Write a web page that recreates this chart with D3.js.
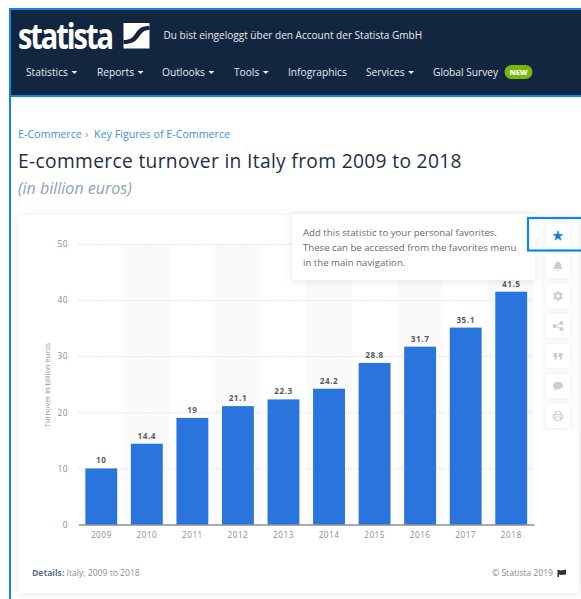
<!DOCTYPE html>
<html>
<head>
<meta charset="utf-8">
<title>E-commerce turnover in Italy</title>
<script src="https://cdn.jsdelivr.net/npm/d3@7"></script>
<style>
html, body { margin: 0; padding: 0; background: #fff; overflow: hidden; }
svg { display: block; font-family: "Open Sans", sans-serif; }
</style>
</head>
<body>
<div id="chart"></div>
<script>
const width = 581;
const height = 599;

const years = ["2009", "2010", "2011", "2012", "2013", "2014", "2015", "2016", "2017", "2018"];
const turnover = [10, 14.4, 19, 21.1, 22.3, 24.2, 28.8, 31.7, 35.1, 41.5];
const yTicks = [0, 10, 20, 30, 40, 50];

const navItems = ["Statistics", "Reports", "Outlooks", "Tools", "Infographics", "Services", "Global Survey"];
const navHasCaret = [true, true, true, true, false, true, false];
const navLeft = [26, 97, 162, 234, 288, 366, 433];
const tooltipLines = [
    "Add this statistic to your personal favorites.",
    "These can be accessed from the favorites menu",
    "in the main navigation."
];
const sideIcons = ["star", "bell", "gear", "share", "quote", "comment", "print"];

const blue = "#0d87e6";
const navy = "#12263f";
const barBlue = "#2975dd";

const svg = d3.select("#chart").append("svg")
    .attr("width", width)
    .attr("height", height)
    .attr("viewBox", [0, 0, width, height]);

const defs = svg.append("defs");
const shadow = defs.append("filter").attr("id", "shadow")
    .attr("x", "-10%").attr("y", "-10%").attr("width", "120%").attr("height", "125%");
shadow.append("feDropShadow")
    .attr("dx", 0).attr("dy", 1).attr("stdDeviation", 4)
    .attr("flood-color", "#000").attr("flood-opacity", 0.1);
const softShadow = defs.append("filter").attr("id", "softShadow")
    .attr("x", "-20%").attr("y", "-20%").attr("width", "140%").attr("height", "140%");
softShadow.append("feDropShadow")
    .attr("dx", 0).attr("dy", 0).attr("stdDeviation", 2)
    .attr("flood-color", "#000").attr("flood-opacity", 0.06);

/**
 * Draw the dark header with logo and navigation
 */
function drawHeader() {
    svg.append("rect").attr("x", 9).attr("y", 8).attr("width", width - 9).attr("height", 89)
        .attr("fill", blue);
    svg.append("rect").attr("x", 11).attr("y", 10).attr("width", width - 11).attr("height", 85)
        .attr("fill", navy);
    svg.append("rect").attr("x", 9).attr("y", 97).attr("width", 2).attr("height", height - 97)
        .attr("fill", blue);

    // Narrow face stretched upwards to get the tall logo letters
    svg.append("text")
        .attr("transform", "translate(18,48.5) scale(1,1.22)")
        .attr("font-family", "'Liberation Sans Narrow', 'Open Sans', sans-serif")
        .attr("font-size", 29).attr("font-weight", 700)
        .attr("textLength", 96).attr("lengthAdjust", "spacing")
        .attr("fill", "#fff")
        .text("statista");

    // Square logo with the dark swoosh running up to the right
    const logo = svg.append("g").attr("transform", "translate(123.5,23)");
    logo.append("rect").attr("width", 26).attr("height", 25.5).attr("fill", "#fff");
    logo.append("path")
        .attr("d", "M0,17 C7,17 9,15 13,9 C16,5 19,3 26,3 L26,7 C21,7 19,9 16,13 C12,19 8,21 0,21 Z")
        .attr("fill", navy);

    svg.append("text")
        .attr("x", 163.5).attr("y", 38.5)
        .attr("font-size", 10.05).attr("fill", "#e8ecf1")
        .text("Du bist eingeloggt über den Account der Statista GmbH");

    const nav = svg.append("g").selectAll("g")
        .data(navItems)
        .join("g")
        .attr("transform", (d, i) => `translate(${navLeft[i]},75.5)`);
    nav.append("text")
        .attr("font-size", 10.2).attr("fill", "#e8ecf1")
        .text(d => d);
    nav.filter((d, i) => navHasCaret[i]).append("path")
        .attr("transform", function () {
            const w = this.parentNode.querySelector("text").getComputedTextLength();
            return `translate(${w + 3.5},-4.5)`;
        })
        .attr("d", "M0,0 L6,0 L3,3 Z")
        .attr("fill", "#e8ecf1");

    svg.append("rect").attr("x", 504.5).attr("y", 65).attr("width", 28).attr("height", 14).attr("rx", 7)
        .attr("fill", "#76b80b");
    svg.append("text").attr("x", 518.5).attr("y", 75).attr("text-anchor", "middle")
        .attr("font-size", 7.5).attr("font-weight", 800).attr("fill", "#fff")
        .text("NEW");
}

/**
 * Draw breadcrumb, headline and unit line
 */
function drawHeadings() {
    svg.append("text").attr("x", 18).attr("y", 138.3)
        .attr("font-size", 10.7).attr("fill", "#3d92dc")
        .text("E-Commerce");
    svg.append("text").attr("x", 85).attr("y", 138.3)
        .attr("font-size", 10.7).attr("fill", "#8a9aaa")
        .text("›");
    svg.append("text").attr("x", 94).attr("y", 138.3)
        .attr("font-size", 10.7).attr("fill", "#3d92dc")
        .text("Key Figures of E-Commerce");
    svg.append("text").attr("x", 18).attr("y", 168)
        .attr("font-size", 19.2).attr("font-weight", 500).attr("fill", "#1d2f47")
        .attr("letter-spacing", 0.34)
        .text("E-commerce turnover in Italy from 2009 to 2018");
    svg.append("text").attr("x", 18).attr("y", 194)
        .attr("font-size", 16).attr("font-style", "italic").attr("fill", "#8ea2b3")
        .text("(in billion euros)");
}

/**
 * Draw the card with the bar chart in it
 */
function drawChart() {
    svg.append("rect").attr("x", 18).attr("y", 215).attr("width", 561).attr("height", 378).attr("rx", 3)
        .attr("fill", "#fff").attr("filter", "url(#shadow)");
    svg.append("rect").attr("x", 541).attr("y", 215).attr("width", 38).attr("height", 215)
        .attr("fill", "#fbfbfc");

    const x = d3.scaleBand().domain(years).range([78.5, 534]).paddingInner(0.3).paddingOuter(0.15);
    const y = d3.scaleLinear().domain([0, 50]).range([524.5, 244]);
    const step = x.step();

    // Alternating column shading
    svg.append("g").selectAll("rect")
        .data(years.filter((d, i) => i % 2 == 1))
        .join("rect")
        .attr("x", d => x(d) - (step - x.bandwidth()) / 2)
        .attr("y", y(50))
        .attr("width", step)
        .attr("height", y(0) - y(50))
        .attr("fill", "#fafafa");

    const yAxis = svg.append("g")
        .attr("transform", "translate(78,0)")
        .call(d3.axisLeft(y).tickValues(yTicks).tickSize(-455).tickPadding(10));
    yAxis.select(".domain").remove();
    yAxis.selectAll("line")
        .attr("stroke", "#e6e6e6").attr("stroke-dasharray", "2,1");
    yAxis.selectAll("text")
        .attr("font-family", "'Open Sans', sans-serif")
        .attr("font-size", 8.4).attr("fill", "#8a8a8a").attr("letter-spacing", 0.4);

    svg.append("g").selectAll("rect")
        .data(turnover)
        .join("rect")
        .attr("x", (d, i) => x(years[i]))
        .attr("y", d => y(d))
        .attr("width", x.bandwidth())
        .attr("height", d => y(0) - y(d))
        .attr("fill", barBlue);

    svg.append("g").selectAll("text")
        .data(turnover)
        .join("text")
        .attr("x", (d, i) => x(years[i]) + x.bandwidth() / 2)
        .attr("y", d => y(d) - 5)
        .attr("text-anchor", "middle")
        .attr("font-size", 8.2).attr("font-weight", 700).attr("fill", "#5c5c5c").attr("letter-spacing", 0.55)
        .text(d => d);

    const xAxis = svg.append("g")
        .attr("transform", "translate(0,524.5)")
        .call(d3.axisBottom(x).tickSize(0).tickPadding(8));
    xAxis.select(".domain").attr("stroke", "#5a5f66").attr("stroke-width", 1);
    xAxis.selectAll("text")
        .attr("font-family", "'Open Sans', sans-serif")
        .attr("font-size", 8.2).attr("fill", "#8a8a8a").attr("letter-spacing", 0.5);

    svg.append("text")
        .attr("transform", "translate(49.5,385) rotate(-90)")
        .attr("text-anchor", "middle")
        .attr("font-size", 7.4).attr("fill", "#969696")
        .text("Turnover in billion euros");

    const details = svg.append("text").attr("x", 32).attr("y", 575.5)
        .attr("font-size", 8.6).attr("fill", "#84909c");
    details.append("tspan").attr("font-weight", 700).attr("fill", "#5f7288").text("Details: ");
    details.append("tspan").text("Italy; 2009 to 2018");

    svg.append("text").attr("x", 553).attr("y", 575.5).attr("text-anchor", "end")
        .attr("font-size", 8.6).attr("fill", "#7f8a96")
        .text("© Statista 2019");
    svg.append("path")
        .attr("d", "M557.5,569.5 L561,570.5 L566,569.5 L566,574.5 L561,575 L559,574.5 L559,577 L557.5,577 Z")
        .attr("fill", "#333");
}

/**
 * Draw one of the small toolbar glyphs, centred on the origin
 */
function drawIcon(g, name, color) {
    if (name == "star") {
        g.append("path").attr("d", d3.symbol(d3.symbolStar, 30)).attr("fill", color)
            .attr("stroke", color).attr("stroke-width", 0.6);
    } else if (name == "bell") {
        g.append("path").attr("d", "M-4.5,3 C-3,1 -3.5,-4 0,-4.5 C3.5,-4 3,1 4.5,3 Z M-1.3,3.8 L1.3,3.8 L0,5.3 Z").attr("fill", color);
    } else if (name == "gear") {
        g.append("circle").attr("r", 2.9).attr("fill", "none").attr("stroke", color).attr("stroke-width", 2);
        g.selectAll("line.t").data(d3.range(6)).join("line")
            .attr("x1", 0).attr("y1", -3.2).attr("x2", 0).attr("y2", -4.9)
            .attr("stroke", color).attr("stroke-width", 1.8)
            .attr("transform", d => `rotate(${d * 60})`);
    } else if (name == "share") {
        g.append("path").attr("d", "M3.5,-3 L-3.5,0 L3.5,3").attr("fill", "none").attr("stroke", color).attr("stroke-width", 1);
        g.selectAll("circle").data([[3.5, -3], [-3.5, 0], [3.5, 3]]).join("circle")
            .attr("cx", d => d[0]).attr("cy", d => d[1]).attr("r", 1.9).attr("fill", color);
    } else if (name == "quote") {
        g.append("path").attr("d", "M-4.5,-3 L-0.7,-3 L-0.7,1 L-2.5,4 L-3.7,4 L-2.8,1 L-4.5,1 Z M0.7,-3 L4.5,-3 L4.5,1 L2.7,4 L1.5,4 L2.4,1 L0.7,1 Z").attr("fill", color);
    } else if (name == "comment") {
        g.append("ellipse").attr("rx", 5).attr("ry", 3.7).attr("cy", -0.5).attr("fill", color);
        g.append("path").attr("d", "M-3,2 L-4.5,4.5 L0,3 Z").attr("fill", color);
    } else if (name == "print") {
        g.append("path").attr("d", "M-2.7,-1.5 L-2.7,-4.3 L2.7,-4.3 L2.7,-1.5 M-2.7,2.5 L-4.6,2.5 L-4.6,-1.3 L4.6,-1.3 L4.6,2.5 L2.7,2.5 M-2.7,1 L2.7,1 L2.7,4.3 L-2.7,4.3 Z")
            .attr("fill", "none").attr("stroke", color).attr("stroke-width", 1.1);
    }
}

/**
 * Draw tooltip and the toolbar on the right of the card
 */
function drawToolbar() {
    const tip = svg.append("g");
    tip.append("rect").attr("x", 292).attr("y", 214).attr("width", 243).attr("height", 66).attr("rx", 3)
        .attr("fill", "#fff").attr("filter", "url(#shadow)");
    tip.append("path").attr("d", "M535,226 L541,233 L535,240 Z").attr("fill", "#fff");
    tip.selectAll("text")
        .data(tooltipLines)
        .join("text")
        .attr("x", 303)
        .attr("y", (d, i) => 235.5 + i * 15)
        .attr("font-size", 9.65).attr("fill", "#6b6b6b")
        .text(d => d);

    const buttons = svg.append("g").selectAll("g")
        .data(sideIcons)
        .join("g")
        .attr("transform", (d, i) => `translate(558,${236 + i * 30})`);
    buttons.append("rect")
        .attr("x", -12).attr("y", -12).attr("width", 24).attr("height", 24).attr("rx", 2.5)
        .attr("fill", "#fff").attr("filter", "url(#softShadow)");
    buttons.each(function (d, i) {
        drawIcon(d3.select(this), d, i == 0 ? "#0d7fd8" : "#c9ced4");
    });

    svg.append("rect").attr("x", 528).attr("y", 218).attr("width", 56).attr("height", 32.5)
        .attr("fill", "none").attr("stroke", blue).attr("stroke-width", 2.2);
}

drawHeader();
drawHeadings();
drawChart();
drawToolbar();
</script>
</body>
</html>
